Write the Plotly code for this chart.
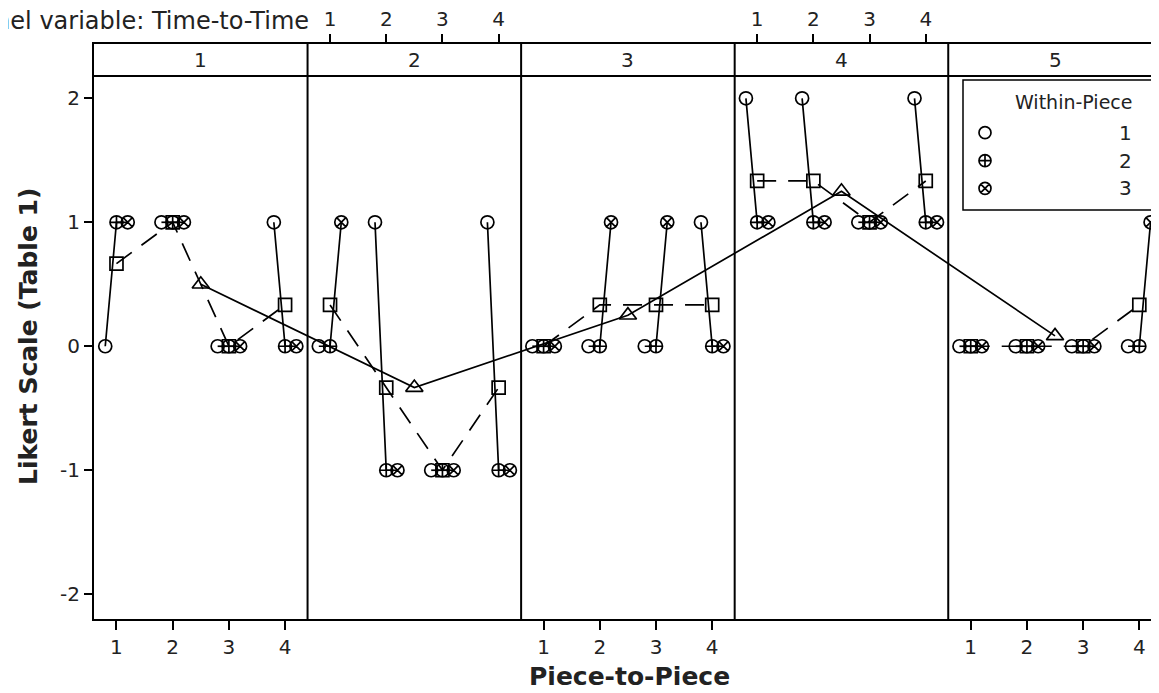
import numpy as np
import plotly.graph_objects as go

# ---------------- data ----------------
pieces = [1, 2, 3, 4, 5]
times = [1, 2, 3, 4]
within_labels = ["1", "2", "3"]
# Likert values, rows = piece, cols = time
within1 = [[0, 1, 0, 1],
           [0, 1, -1, 1],
           [0, 0, 0, 1],
           [2, 2, 1, 2],
           [0, 0, 0, 0]]
within2 = [[1, 1, 0, 0],
           [0, -1, -1, -1],
           [0, 0, 0, 0],
           [1, 1, 1, 1],
           [0, 0, 0, 0]]
within3 = [[1, 1, 0, 0],
           [1, -1, -1, -1],
           [0, 1, 1, 0],
           [1, 1, 1, 1],
           [0, 0, 0, 1]]
y_ticks = [-2, -1, 0, 1, 2]
y_title = "Likert Scale (Table 1)"
x_title = "Piece-to-Piece"
panel_title = "Panel variable: Time-to-Time"
legend_title = "Within-Piece"

# ---------------- layout constants ----------------
PAGE = 8                      # browser body margin
FW, FH = 1159 - PAGE, 693 - PAGE
ML, MR, MT, MB = 94 - PAGE, 0, 44 - PAGE, 74
PW = FW - ML - MR
PH = FH - MT - MB
PANEL = 3.8          # data width of one panel (time range 0.6 .. 4.4)
T0 = 0.6
OFF = 0.2            # within-piece horizontal offset
XR = [0, PW / 56.2]
YR = [-2.2, 2.438]
STRIP_Y = 2.18
FONT = "DejaVu Sans"
BLK = "black"
TXT = "#222"
LW = 1.7

def px_x(px):
    # screen pixel -> paper fraction
    return (px - PAGE - ML) / PW

def px_y(py):
    return (FH - MB - (py - PAGE)) / PH

W = np.array([within1, within2, within3], dtype=float)  # (3, piece, time)
time_means = W.mean(axis=0)
piece_means = time_means.mean(axis=1)

def xpos(p_idx, t):
    return p_idx * PANEL + (t - T0)

fig = go.Figure()

# within-time connecting lines
lx, ly = [], []
for pi in range(len(pieces)):
    for ti, t in enumerate(times):
        for wi in range(3):
            lx.append(xpos(pi, t) + (wi - 1) * OFF)
            ly.append(W[wi, pi, ti])
        lx.append(None)
        ly.append(None)
fig.add_trace(go.Scatter(x=lx, y=ly, mode="lines",
                         line=dict(color=BLK, width=LW),
                         showlegend=False, hoverinfo="skip"))

symbols = ["circle-open", "circle-cross-open", "circle-x-open"]
for wi in range(3):
    xs, ys = [], []
    for pi in range(len(pieces)):
        for ti, t in enumerate(times):
            xs.append(xpos(pi, t) + (wi - 1) * OFF)
            ys.append(W[wi, pi, ti])
    fig.add_trace(go.Scatter(x=xs, y=ys, mode="markers",
                             marker=dict(symbol=symbols[wi], size=13, color=BLK,
                                         line=dict(color=BLK, width=LW)),
                             name=within_labels[wi], showlegend=False))

# time means (dashed within each panel)
mx, my = [], []
for pi in range(len(pieces)):
    for ti, t in enumerate(times):
        mx.append(xpos(pi, t))
        my.append(time_means[pi, ti])
    mx.append(None)
    my.append(None)
fig.add_trace(go.Scatter(x=mx, y=my, mode="lines+markers",
                         line=dict(color=BLK, width=LW, dash="19px,12px"),
                         marker=dict(symbol="square-open", size=13, color=BLK,
                                     line=dict(color=BLK, width=LW)),
                         showlegend=False, connectgaps=False))

# piece means
fig.add_trace(go.Scatter(x=[pi * PANEL + PANEL / 2 for pi in range(len(pieces))],
                         y=piece_means, mode="lines+markers",
                         line=dict(color=BLK, width=LW),
                         marker=dict(symbol="triangle-up-open", size=15, color=BLK,
                                     line=dict(color=BLK, width=LW)),
                         showlegend=False))

# legend symbols on an auxiliary hidden axis
leg_y = [px_y(132.7), px_y(160.7), px_y(188.3)]
for wi in range(3):
    fig.add_trace(go.Scatter(x=[px_x(985)], y=[leg_y[wi]], mode="markers",
                             xaxis="x3", yaxis="y3",
                             marker=dict(symbol=symbols[wi], size=12, color=BLK,
                                         line=dict(color=BLK, width=LW)),
                             showlegend=False, hoverinfo="skip"))

bottom_vals, bottom_text, top_vals, top_text = [], [], [], []
for pi in range(len(pieces)):
    for t in times:
        if pi % 2 == 0:
            bottom_vals.append(xpos(pi, t)); bottom_text.append(str(t))
        else:
            top_vals.append(xpos(pi, t)); top_text.append(str(t))

axis_common = dict(showgrid=False, zeroline=False, showline=True, linecolor=BLK,
                   linewidth=2, ticks="outside", tickcolor=BLK, tickwidth=1.5,
                   tickfont=dict(family=FONT, size=20, color=TXT))

shapes = []
for pi in range(1, len(pieces)):
    shapes.append(dict(type="line", xref="x", yref="paper", x0=pi * PANEL, x1=pi * PANEL,
                       y0=0, y1=1, line=dict(color=BLK, width=2)))
shapes.append(dict(type="line", xref="paper", yref="y", x0=0, x1=1, y0=STRIP_Y, y1=STRIP_Y,
                   line=dict(color=BLK, width=2)))
shapes.append(dict(type="rect", xref="paper", yref="paper",
                   x0=px_x(963), x1=px_x(1152), y0=px_y(210), y1=px_y(80),
                   line=dict(color=BLK, width=1.5), fillcolor="rgba(0,0,0,0)"))

ann = []
for pi, p in enumerate(pieces):
    ann.append(dict(x=pi * PANEL + PANEL / 2, y=(STRIP_Y + YR[1]) / 2, xref="x", yref="y",
                    text=str(p), showarrow=False,
                    font=dict(family=FONT, size=20, color=TXT)))
ann.append(dict(x=px_x(311), y=px_y(21), xref="paper", yref="paper", text=panel_title,
                xanchor="right", yanchor="middle", showarrow=False,
                font=dict(family=FONT, size=24, color=TXT)))
ann.append(dict(x=px_x(629), y=px_y(676), xref="paper", yref="paper", text="<b>%s</b>" % x_title,
                xanchor="center", yanchor="middle", showarrow=False,
                font=dict(family=FONT, size=25, color=TXT)))
ann.append(dict(x=px_x(28), y=px_y(337), xref="paper", yref="paper", text="<b>%s</b>" % y_title,
                xanchor="center", yanchor="middle", textangle=-90, showarrow=False,
                font=dict(family=FONT, size=25, color=TXT)))
ann.append(dict(x=px_x(1134), y=px_y(101.7), xref="paper", yref="paper", text=legend_title,
                xanchor="right", yanchor="middle", showarrow=False,
                font=dict(family=FONT, size=19, color=TXT)))
for wi in range(3):
    ann.append(dict(x=px_x(1134), y=leg_y[wi], xref="paper", yref="paper", text=within_labels[wi],
                    xanchor="right", yanchor="middle", showarrow=False,
                    font=dict(family=FONT, size=20, color=TXT)))

fig.update_layout(
    width=FW, height=FH, autosize=False,
    margin=dict(l=ML, r=MR, t=MT, b=MB, pad=0),
    paper_bgcolor="white", plot_bgcolor="rgba(0,0,0,0)",
    showlegend=False,
    xaxis=dict(range=XR, tickvals=bottom_vals, ticktext=bottom_text, ticklen=9,
               side="bottom", **axis_common),
    xaxis2=dict(range=XR, overlaying="x", side="top", anchor="y", tickvals=top_vals,
                ticktext=top_text, ticklen=8, **axis_common),
    yaxis=dict(range=YR, tickvals=y_ticks, ticktext=[str(v) for v in y_ticks], ticklen=8,
               **axis_common),
    xaxis3=dict(domain=[0, 1], range=[0, 1], anchor="y3", visible=False),
    yaxis3=dict(domain=[0, 1], range=[0, 1], anchor="x3", visible=False),
    shapes=shapes, annotations=ann,
)
# top axis needs at least one trace to show; attach an invisible trace
fig.add_trace(go.Scatter(x=[XR[0]], y=[0], xaxis="x2", yaxis="y", mode="markers",
                         marker=dict(opacity=0), showlegend=False, hoverinfo="skip"))

fig.write_html("out.html")
